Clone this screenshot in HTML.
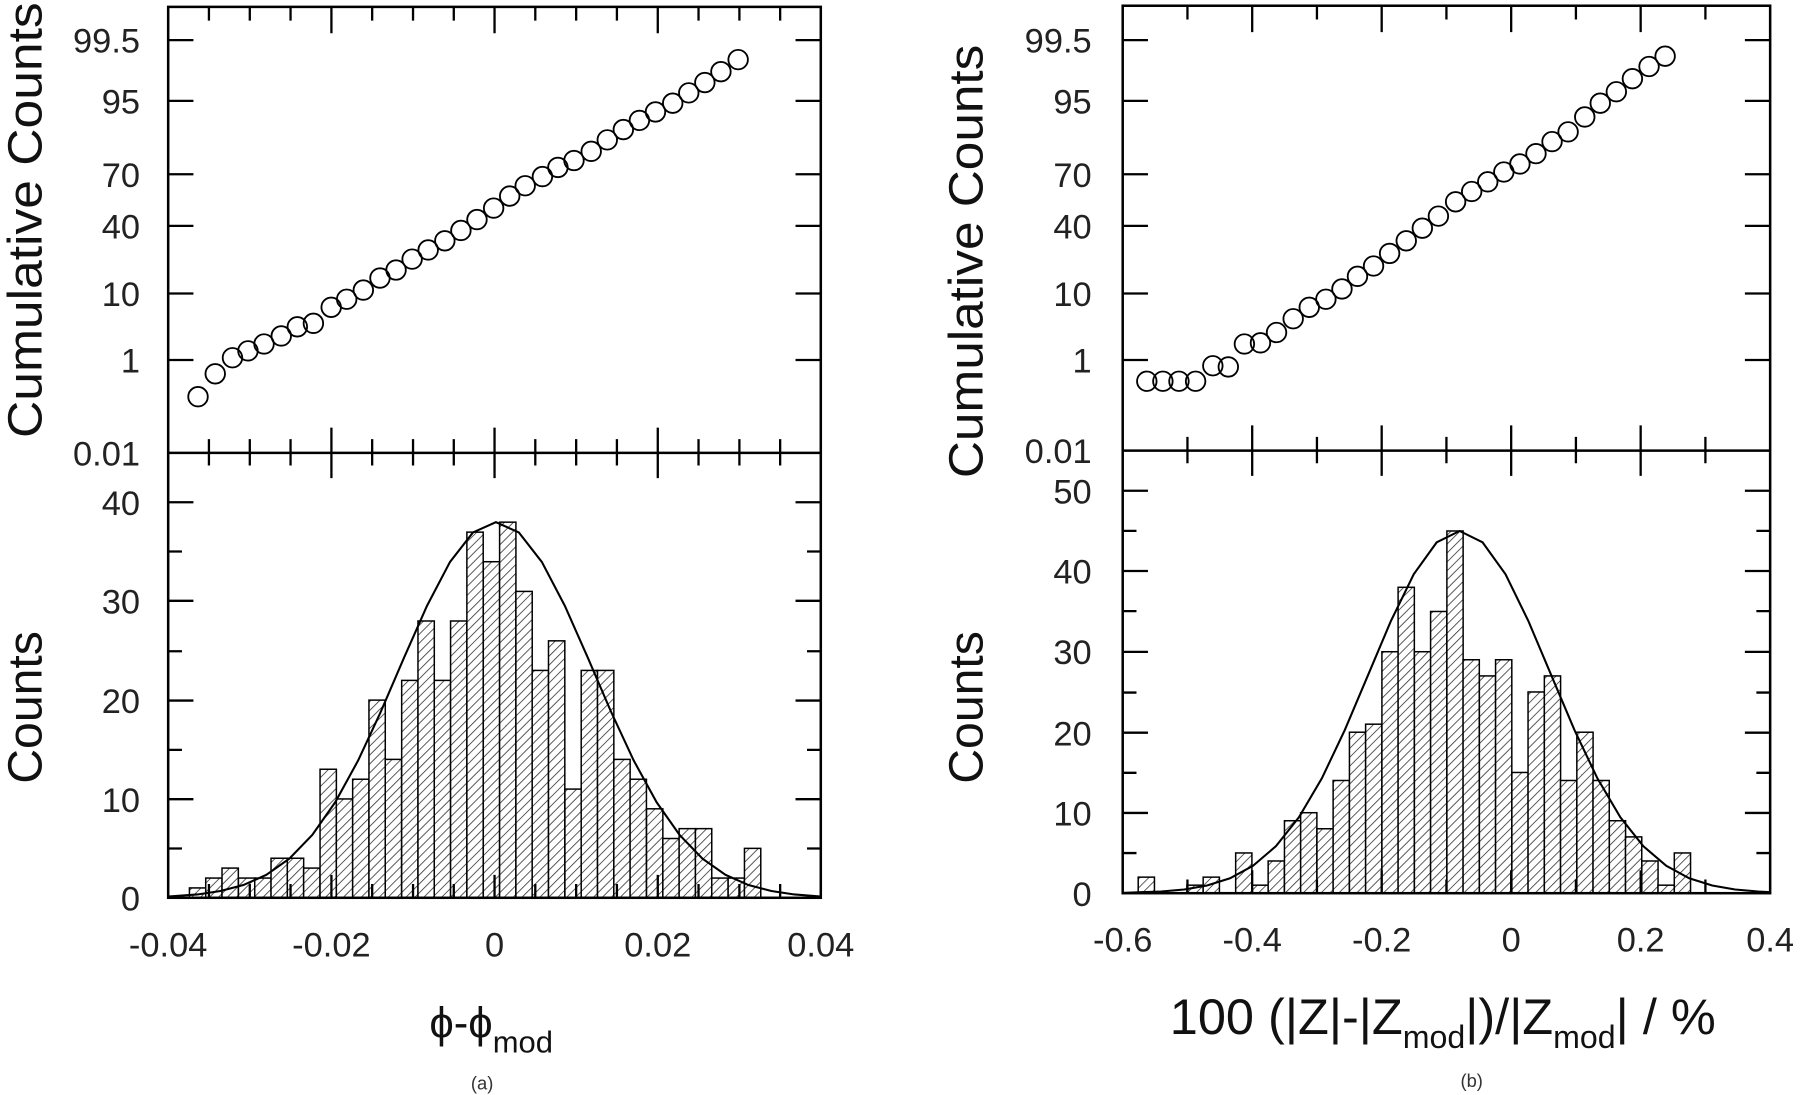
<!DOCTYPE html>
<html><head><meta charset="utf-8"><style>html,body{margin:0;padding:0;background:#fff}svg{display:block}</style></head>
<body>
<svg width="1800" height="1095" viewBox="0 0 1568 955" preserveAspectRatio="none" xmlns="http://www.w3.org/2000/svg" font-family="Liberation Sans, sans-serif">
<defs>
<pattern id="h" patternUnits="userSpaceOnUse" width="5.5" height="5.5" patternTransform="rotate(45)">
<rect width="5.5" height="5.5" fill="#fff"/><line x1="0" y1="0" x2="0" y2="5.5" stroke="#333" stroke-width="1.4"/>
</pattern>
</defs>
<rect width="1568" height="955" fill="#fff"/>

<!-- ===== Panel A ===== -->
<g stroke="#000" stroke-width="1.3" fill="url(#h)">
<rect x="165" y="774.4" width="14.22" height="8.6"/>
<rect x="179.2" y="765.8" width="14.22" height="17.2"/>
<rect x="193.4" y="757.1" width="14.22" height="25.9"/>
<rect x="207.7" y="765.8" width="14.22" height="17.2"/>
<rect x="221.9" y="765.8" width="14.22" height="17.2"/>
<rect x="236.1" y="748.5" width="14.22" height="34.5"/>
<rect x="250.3" y="748.5" width="14.22" height="34.5"/>
<rect x="264.5" y="757.1" width="14.22" height="25.9"/>
<rect x="278.8" y="670.9" width="14.22" height="112.1"/>
<rect x="293.0" y="696.8" width="14.22" height="86.2"/>
<rect x="307.2" y="679.6" width="14.22" height="103.4"/>
<rect x="321.4" y="610.6" width="14.22" height="172.4"/>
<rect x="335.6" y="662.3" width="14.22" height="120.7"/>
<rect x="349.9" y="593.4" width="14.22" height="189.6"/>
<rect x="364.1" y="541.6" width="14.22" height="241.4"/>
<rect x="378.3" y="593.4" width="14.22" height="189.6"/>
<rect x="392.5" y="541.6" width="14.22" height="241.4"/>
<rect x="406.7" y="464.1" width="14.22" height="318.9"/>
<rect x="421.0" y="489.9" width="14.22" height="293.1"/>
<rect x="435.2" y="455.4" width="14.22" height="327.6"/>
<rect x="449.4" y="515.8" width="14.22" height="267.2"/>
<rect x="463.6" y="584.7" width="14.22" height="198.3"/>
<rect x="477.8" y="558.9" width="14.22" height="224.1"/>
<rect x="492.1" y="688.2" width="14.22" height="94.8"/>
<rect x="506.3" y="584.7" width="14.22" height="198.3"/>
<rect x="520.5" y="584.7" width="14.22" height="198.3"/>
<rect x="534.7" y="662.3" width="14.22" height="120.7"/>
<rect x="548.9" y="679.6" width="14.22" height="103.4"/>
<rect x="563.2" y="705.4" width="14.22" height="77.6"/>
<rect x="577.4" y="731.3" width="14.22" height="51.7"/>
<rect x="591.6" y="722.7" width="14.22" height="60.3"/>
<rect x="605.8" y="722.7" width="14.22" height="60.3"/>
<rect x="620.0" y="765.8" width="14.22" height="17.2"/>
<rect x="634.3" y="765.8" width="14.22" height="17.2"/>
<rect x="648.5" y="739.9" width="14.22" height="43.1"/>
</g>
<polyline fill="none" stroke="#000" stroke-width="1.8" points="146.5,781.9 172,780.1 192,777.1 212,771.9 232,763.0 252,748.9 272,728.2 292,699.7 312,663.2 332,620.1 352,573.5 372,528.3 392,490.1 412,464.4 432,455.4 452,464.4 472,490.1 492,528.3 512,573.5 532,620.1 552,663.2 572,699.7 592,728.2 612,748.9 632,763.0 652,771.9 672,777.1 692,780.1 715,781.9"/>

<g fill="none" stroke="#000" stroke-width="1.6">
<circle cx="172.5" cy="346" r="8.5"/><circle cx="187.5" cy="326" r="8.5"/><circle cx="202.5" cy="312" r="8.5"/><circle cx="216" cy="306" r="8.5"/><circle cx="230" cy="300" r="8.5"/><circle cx="245" cy="293" r="8.5"/><circle cx="259" cy="285" r="8.5"/><circle cx="273" cy="282" r="8.5"/><circle cx="288.5" cy="268" r="8.5"/><circle cx="302" cy="261" r="8.5"/><circle cx="316.5" cy="253" r="8.5"/><circle cx="331" cy="242.5" r="8.5"/><circle cx="345" cy="235.5" r="8.5"/><circle cx="359" cy="226" r="8.5"/><circle cx="373" cy="218" r="8.5"/><circle cx="387.5" cy="210" r="8.5"/><circle cx="401.5" cy="201" r="8.5"/><circle cx="415.5" cy="191.5" r="8.5"/><circle cx="430" cy="181.5" r="8.5"/><circle cx="444" cy="171" r="8.5"/><circle cx="457.5" cy="162" r="8.5"/><circle cx="472.5" cy="154" r="8.5"/><circle cx="486" cy="146" r="8.5"/><circle cx="500" cy="140" r="8.5"/><circle cx="515" cy="132" r="8.5"/><circle cx="529" cy="122" r="8.5"/><circle cx="543" cy="113" r="8.5"/><circle cx="557" cy="105" r="8.5"/><circle cx="571" cy="97.6" r="8.5"/><circle cx="586" cy="90" r="8.5"/><circle cx="600" cy="81" r="8.5"/><circle cx="614" cy="72" r="8.5"/><circle cx="628" cy="62.5" r="8.5"/><circle cx="643" cy="52" r="8.5"/>
</g>

<g fill="none" stroke="#000" stroke-width="2.2">
<rect x="146.5" y="6" width="568.5" height="777"/>
<line x1="146.5" y1="395" x2="715" y2="395"/>
</g>
<g stroke="#000" stroke-width="2">
<path d="M182,6v12M217.6,6v12M253.1,6v12M288.7,6v23M324.2,6v12M359.8,6v12M395.3,6v12M430.8,6v23M466.3,6v12M501.9,6v12M537.4,6v12M573,6v23M608.5,6v12M644.1,6v12M679.6,6v12"/>
<path d="M182,383v23M217.6,383v23M253.1,383v23M288.7,373v44M324.2,383v23M359.8,383v23M395.3,383v23M430.8,373v44M466.3,383v23M501.9,383v23M537.4,383v23M573,373v44M608.5,383v23M644.1,383v23M679.6,383v23"/>
<path d="M182,783v-12M217.6,783v-12M253.1,783v-12M288.7,783v-20M324.2,783v-12M359.8,783v-12M395.3,783v-12M430.8,783v-20M466.3,783v-12M501.9,783v-12M537.4,783v-12M573,783v-20M608.5,783v-12M644.1,783v-12M679.6,783v-12"/>
<path d="M146.5,35h22M146.5,88h22M146.5,152h22M146.5,197h22M146.5,256h22M146.5,314h22M715,35h-22M715,88h-22M715,152h-22M715,197h-22M715,256h-22M715,314h-22"/>
<path d="M146.5,697h22M146.5,611h22M146.5,524h22M146.5,438h22M146.5,740h12M146.5,654h12M146.5,568h12M146.5,481h12M715,697h-22M715,611h-22M715,524h-22M715,438h-22M715,740h-12M715,654h-12M715,568h-12M715,481h-12"/>
</g>
<g font-size="30" fill="#222" text-anchor="end">
<text x="122" y="46">99.5</text><text x="122" y="99">95</text><text x="122" y="163">70</text><text x="122" y="208">40</text><text x="122" y="267">10</text><text x="122" y="325">1</text><text x="122" y="406">0.01</text>
<text x="122" y="449">40</text><text x="122" y="535">30</text><text x="122" y="622">20</text><text x="122" y="708">10</text><text x="122" y="794">0</text>
</g>
<g font-size="30" fill="#222" text-anchor="middle">
<text x="146.5" y="834">-0.04</text><text x="288.7" y="834">-0.02</text><text x="430.8" y="834">0</text><text x="573" y="834">0.02</text><text x="715" y="834">0.04</text>
</g>
<text transform="translate(36,192) rotate(-90)" font-size="42" text-anchor="middle" textLength="380" lengthAdjust="spacingAndGlyphs" fill="#111">Cumulative Counts</text>
<text transform="translate(36,617) rotate(-90)" font-size="42" text-anchor="middle" fill="#111">Counts</text>
<text x="374" y="905" font-size="38" fill="#111">ϕ-ϕ<tspan font-size="27" dy="13">mod</tspan></text>
<text x="420" y="950" font-size="16" text-anchor="middle" fill="#333">(a)</text>

<!-- ===== Panel B ===== -->
<g stroke="#000" stroke-width="1.3" fill="url(#h)">
<rect x="991.5" y="765" width="14.15" height="14"/>
<rect x="1033.9" y="772" width="14.15" height="7"/>
<rect x="1048.1" y="765" width="14.15" height="14"/>
<rect x="1076.4" y="743.9" width="14.15" height="35.1"/>
<rect x="1090.6" y="772" width="14.15" height="7"/>
<rect x="1104.7" y="750.9" width="14.15" height="28.1"/>
<rect x="1118.9" y="715.8" width="14.15" height="63.2"/>
<rect x="1133.0" y="708.8" width="14.15" height="70.2"/>
<rect x="1147.2" y="722.8" width="14.15" height="56.2"/>
<rect x="1161.3" y="680.7" width="14.15" height="98.3"/>
<rect x="1175.5" y="638.6" width="14.15" height="140.4"/>
<rect x="1189.6" y="631.6" width="14.15" height="147.4"/>
<rect x="1203.8" y="568.4" width="14.15" height="210.6"/>
<rect x="1217.9" y="512.2" width="14.15" height="266.8"/>
<rect x="1232.1" y="568.4" width="14.15" height="210.6"/>
<rect x="1246.2" y="533.3" width="14.15" height="245.7"/>
<rect x="1260.4" y="463.1" width="14.15" height="315.9"/>
<rect x="1274.5" y="575.4" width="14.15" height="203.6"/>
<rect x="1288.7" y="589.5" width="14.15" height="189.5"/>
<rect x="1302.8" y="575.4" width="14.15" height="203.6"/>
<rect x="1317.0" y="673.7" width="14.15" height="105.3"/>
<rect x="1331.1" y="603.5" width="14.15" height="175.5"/>
<rect x="1345.3" y="589.5" width="14.15" height="189.5"/>
<rect x="1359.4" y="680.7" width="14.15" height="98.3"/>
<rect x="1373.6" y="638.6" width="14.15" height="140.4"/>
<rect x="1387.7" y="680.7" width="14.15" height="98.3"/>
<rect x="1401.9" y="715.8" width="14.15" height="63.2"/>
<rect x="1416.0" y="729.9" width="14.15" height="49.1"/>
<rect x="1430.2" y="750.9" width="14.15" height="28.1"/>
<rect x="1444.3" y="772" width="14.15" height="7"/>
<rect x="1458.5" y="743.9" width="14.15" height="35.1"/>
</g>
<polyline fill="none" stroke="#000" stroke-width="1.8" points="978,778.7 1011.5,777.5 1031.5,775.8 1051.5,772.3 1071.5,766.0 1091.5,755.1 1111.5,738.0 1131.5,712.8 1151.5,678.8 1171.5,636.6 1191.5,589.3 1211.5,541.9 1231.5,500.9 1251.5,473.0 1271.5,463.1 1291.5,473.0 1311.5,500.9 1331.5,541.9 1351.5,589.3 1371.5,636.6 1391.5,678.8 1411.5,712.8 1431.5,738.0 1451.5,755.1 1471.5,766.0 1491.5,772.3 1511.5,775.8 1531.5,777.5 1542,778.1"/>

<g fill="none" stroke="#000" stroke-width="1.6">
<circle cx="999" cy="332.5" r="8.5"/><circle cx="1013" cy="332.5" r="8.5"/><circle cx="1027" cy="332.5" r="8.5"/><circle cx="1041.5" cy="332.5" r="8.5"/><circle cx="1056.5" cy="319" r="8.5"/><circle cx="1070" cy="320" r="8.5"/><circle cx="1084" cy="300" r="8.5"/><circle cx="1098" cy="299" r="8.5"/><circle cx="1112" cy="290" r="8.5"/><circle cx="1126.5" cy="278" r="8.5"/><circle cx="1140.5" cy="268" r="8.5"/><circle cx="1155" cy="261" r="8.5"/><circle cx="1169" cy="252" r="8.5"/><circle cx="1182.5" cy="241" r="8.5"/><circle cx="1196.5" cy="232" r="8.5"/><circle cx="1210.5" cy="221" r="8.5"/><circle cx="1225" cy="210" r="8.5"/><circle cx="1239" cy="199" r="8.5"/><circle cx="1253" cy="188.5" r="8.5"/><circle cx="1268" cy="176" r="8.5"/><circle cx="1282" cy="167" r="8.5"/><circle cx="1296" cy="158.6" r="8.5"/><circle cx="1310" cy="150" r="8.5"/><circle cx="1324" cy="143" r="8.5"/><circle cx="1338" cy="134" r="8.5"/><circle cx="1352" cy="123.5" r="8.5"/><circle cx="1366" cy="115" r="8.5"/><circle cx="1380.5" cy="102" r="8.5"/><circle cx="1394" cy="90" r="8.5"/><circle cx="1408" cy="80" r="8.5"/><circle cx="1422" cy="68.6" r="8.5"/><circle cx="1436.5" cy="58" r="8.5"/><circle cx="1450.5" cy="49" r="8.5"/>
</g>

<g fill="none" stroke="#000" stroke-width="2.2">
<rect x="978" y="5" width="564" height="774"/>
<line x1="978" y1="393" x2="1542" y2="393"/>
</g>
<g stroke="#000" stroke-width="2">
<path d="M1034.4,5v12M1090.8,5v23M1147.2,5v12M1203.6,5v23M1260,5v12M1316.4,5v23M1372.8,5v12M1429.2,5v23M1485.6,5v12"/>
<path d="M1034.4,381v23M1090.8,371v44M1147.2,381v23M1203.6,371v44M1260,381v23M1316.4,371v44M1372.8,381v23M1429.2,371v44M1485.6,381v23"/>
<path d="M1034.4,779v-12M1090.8,779v-20M1147.2,779v-12M1203.6,779v-20M1260,779v-12M1316.4,779v-20M1372.8,779v-12M1429.2,779v-20M1485.6,779v-12"/>
<path d="M978,35h22M978,88h22M978,152h22M978,197h22M978,256h22M978,314h22M1542,35h-22M1542,88h-22M1542,152h-22M1542,197h-22M1542,256h-22M1542,314h-22"/>
<path d="M978,709h22M978,639h22M978,568.5h22M978,498h22M978,428h22M978,744h12M978,674h12M978,604h12M978,533h12M978,463h12M1542,709h-22M1542,639h-22M1542,568.5h-22M1542,498h-22M1542,428h-22M1542,744h-12M1542,674h-12M1542,604h-12M1542,533h-12M1542,463h-12"/>
</g>
<g font-size="30" fill="#222" text-anchor="end">
<text x="951" y="46">99.5</text><text x="951" y="99">95</text><text x="951" y="163">70</text><text x="951" y="208">40</text><text x="951" y="267">10</text><text x="951" y="325">1</text><text x="951" y="404">0.01</text>
<text x="951" y="439">50</text><text x="951" y="509">40</text><text x="951" y="579">30</text><text x="951" y="650">20</text><text x="951" y="720">10</text><text x="951" y="790">0</text>
</g>
<g font-size="30" fill="#222" text-anchor="middle">
<text x="978" y="830">-0.6</text><text x="1090.8" y="830">-0.4</text><text x="1203.6" y="830">-0.2</text><text x="1316.4" y="830">0</text><text x="1429.2" y="830">0.2</text><text x="1542" y="830">0.4</text>
</g>
<text transform="translate(856,228) rotate(-90)" font-size="42" text-anchor="middle" textLength="378" lengthAdjust="spacingAndGlyphs" fill="#111">Cumulative Counts</text>
<text transform="translate(856,617) rotate(-90)" font-size="42" text-anchor="middle" fill="#111">Counts</text>
<text x="1019" y="902" font-size="44" fill="#111">100 (|Z|-|Z<tspan font-size="28" dy="12">mod</tspan><tspan dy="-12">|)/|Z</tspan><tspan font-size="28" dy="12">mod</tspan><tspan dy="-12">| / %</tspan></text>
<text x="1282" y="948" font-size="16" text-anchor="middle" fill="#333">(b)</text>
</svg>
</body></html>
